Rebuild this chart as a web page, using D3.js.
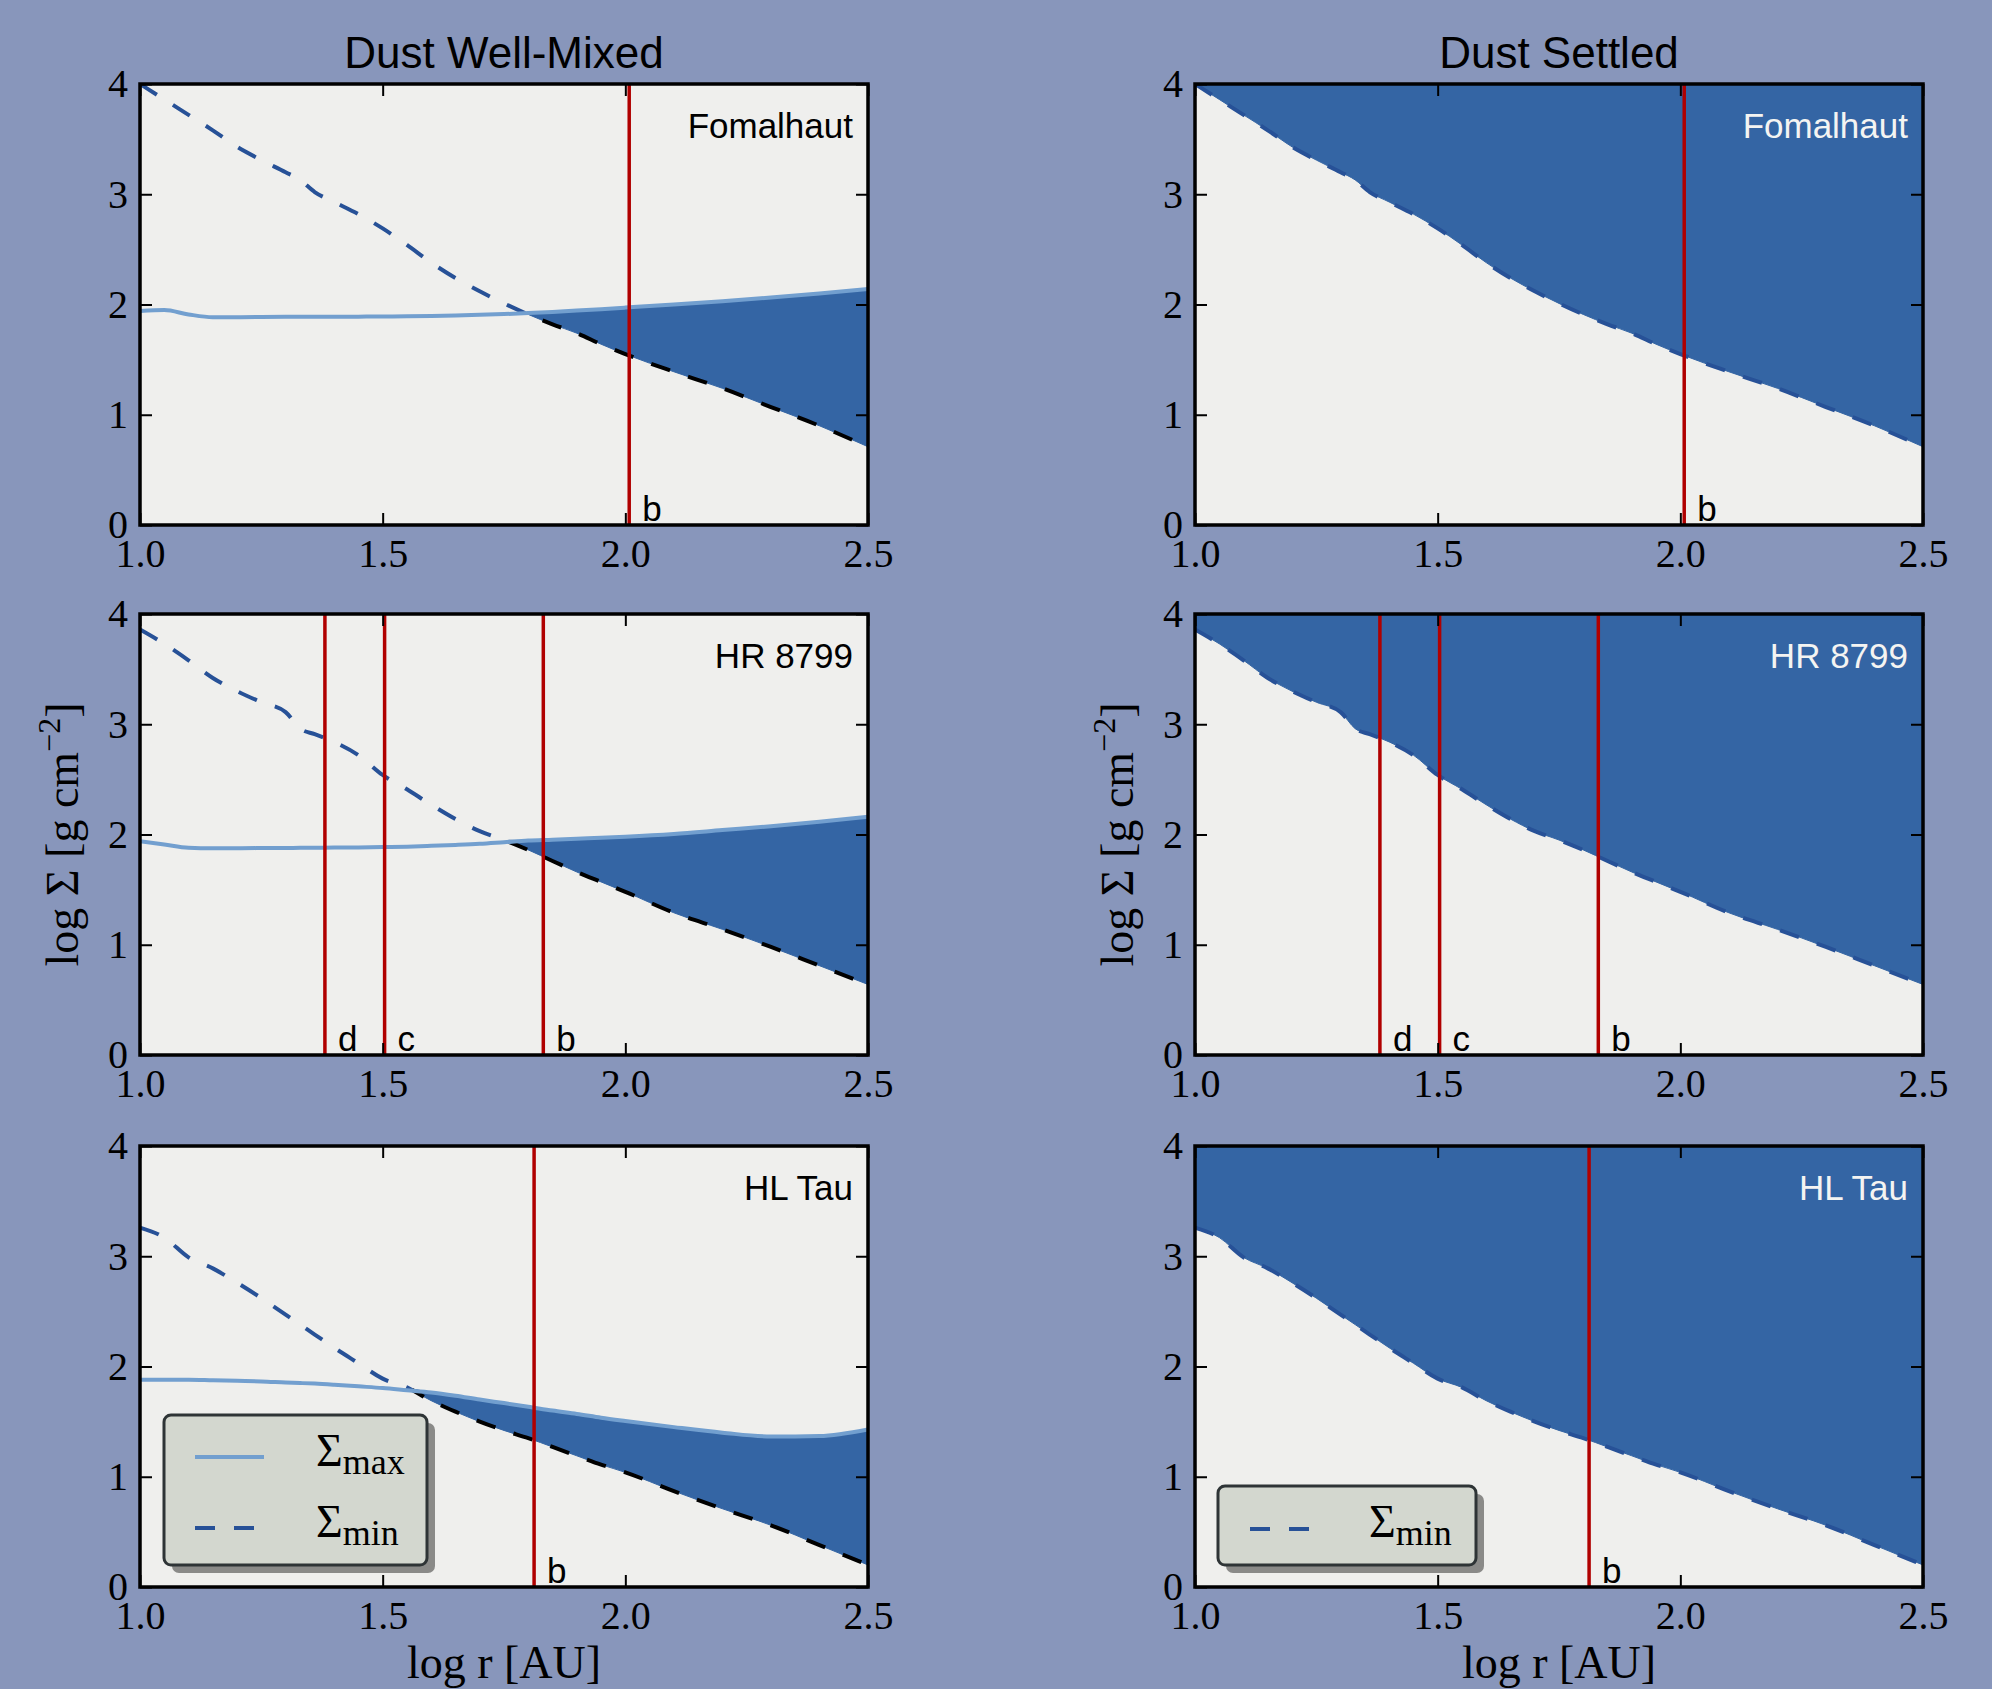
<!DOCTYPE html>
<html>
<head>
<meta charset="utf-8">
<script src="https://cdnjs.cloudflare.com/ajax/libs/d3/7.8.5/d3.min.js"></script>
<style>
  body { margin: 0; background: #8896bb; }
  svg { display: block; }
  .axis .tick line { stroke: #000; stroke-width: 2; }
  .axis .tick text { font-family: "Liberation Serif", serif; font-size: 40px; fill: #000; }
  .sys-label { font-family: "Liberation Sans", sans-serif; font-size: 35px; text-anchor: end; }
  .planet-label { font-family: "Liberation Sans", sans-serif; font-size: 35px; fill: #000; }
  .col-title { font-family: "Liberation Sans", sans-serif; font-size: 44px; text-anchor: middle; fill: #000; }
  .axis-label { font-family: "Liberation Serif", serif; font-size: 46px; text-anchor: middle; fill: #000; }
  .legend-text { font-family: "Liberation Serif", serif; fill: #000; }
</style>
</head>
<body>
<div id="chart"></div>
<script>
// Data
var columnTitles = ["Dust Well-Mixed", "Dust Settled"];
var systemNames = ["Fomalhaut", "HR 8799", "HL Tau"];
var xTicks = [1.0, 1.5, 2.0, 2.5];
var yTicks = [0, 1, 2, 3, 4];

// log r [AU] sample points shared by all curves
var logR = [1.00, 1.05, 1.10, 1.15, 1.20, 1.25, 1.30, 1.33, 1.36, 1.40, 1.45, 1.50, 1.55, 1.60,
            1.65, 1.70, 1.75, 1.80, 1.85, 1.90, 1.95, 2.00, 2.10, 2.20, 2.30, 2.40, 2.50];

var fomalhautMin = [4.00, 3.86, 3.72, 3.58, 3.43, 3.31, 3.20, 3.13, 3.02, 2.93, 2.82, 2.69, 2.54, 2.38,
                    2.24, 2.12, 2.01, 1.91, 1.82, 1.74, 1.64, 1.55, 1.39, 1.24, 1.07, 0.90, 0.71];
var fomalhautMax = [1.94, 1.95, 1.91, 1.885, 1.885, 1.887, 1.888, 1.888, 1.889, 1.889, 1.890, 1.891, 1.893, 1.896,
                    1.900, 1.906, 1.913, 1.922, 1.933, 1.945, 1.958, 1.972, 2.000, 2.030, 2.063, 2.100, 2.140];

var hr8799Min = [3.86, 3.73, 3.58, 3.42, 3.30, 3.20, 3.11, 2.96, 2.91, 2.84, 2.72, 2.54, 2.41, 2.27,
                 2.14, 2.03, 1.95, 1.86, 1.76, 1.66, 1.57, 1.48, 1.29, 1.14, 0.98, 0.81, 0.64];
var hr8799Max = [1.94, 1.91, 1.88, 1.875, 1.875, 1.877, 1.878, 1.879, 1.880, 1.881, 1.883, 1.886, 1.890, 1.897,
                 1.905, 1.915, 1.930, 1.945, 1.953, 1.962, 1.970, 1.980, 2.005, 2.040, 2.075, 2.115, 2.160];

var hlTauMin = [3.26, 3.17, 2.99, 2.89, 2.76, 2.62, 2.47, 2.38, 2.29, 2.17, 2.03, 1.89, 1.81, 1.69,
                1.59, 1.50, 1.42, 1.35, 1.27, 1.19, 1.11, 1.04, 0.87, 0.71, 0.56, 0.38, 0.20];
var hlTauMax = [1.88, 1.88, 1.88, 1.875, 1.87, 1.865, 1.855, 1.85, 1.845, 1.835, 1.82, 1.805, 1.785, 1.765,
                1.735, 1.70, 1.668, 1.635, 1.60, 1.57, 1.535, 1.505, 1.45, 1.40, 1.365, 1.37, 1.43];

// planet positions (log r) and names
var fomalhautPlanetR = [2.008];
var fomalhautPlanetNames = ["b"];
var hr8799PlanetR = [1.381, 1.504, 1.831];
var hr8799PlanetNames = ["d", "c", "b"];
var hlTauPlanetR = [1.812];
var hlTauPlanetNames = ["b"];

var systems = [
  { name: systemNames[0], min: fomalhautMin, max: fomalhautMax, planetR: fomalhautPlanetR, planets: fomalhautPlanetNames },
  { name: systemNames[1], min: hr8799Min,    max: hr8799Max,    planetR: hr8799PlanetR,    planets: hr8799PlanetNames },
  { name: systemNames[2], min: hlTauMin,     max: hlTauMax,     planetR: hlTauPlanetR,     planets: hlTauPlanetNames }
];

// Layout
var W = 1992, H = 1689;
var colX = [140, 1195];
var rowY = [84, 614, 1146];
var width = 728, height = 441;

var colors = {
  bg: "#8896bb",
  plot: "#efefed",
  fill: "#3465a4",
  maxLine: "#729fcf",
  minLine: "#275197",
  planet: "#b00000",
  legend: "#d3d7cf"
};

var svg = d3.select("#chart")
  .append("svg")
  .attr("width", W)
  .attr("height", H)
  .style("background", colors.bg);

var x = d3.scaleLinear().domain([1.0, 2.5]).range([0, width]);
var y = d3.scaleLinear().domain([0, 4]).range([height, 0]);
var curve = d3.curveMonotoneX;

var defs = svg.append("defs");

function drawPanel(row, col) {
  var sys = systems[row];
  var settled = col === 1;
  var id = "p" + row + "" + col;
  var pts = logR.map(function(r, i) { return { r: r, min: sys.min[i], max: sys.max[i] }; });

  var g = svg.append("g")
    .attr("transform", "translate(" + colX[col] + "," + rowY[row] + ")");

  // crossing point of the two curves
  var xc = 2.5;
  for (var i = 1; i < pts.length; i++) {
    var d0 = pts[i - 1].min - pts[i - 1].max, d1 = pts[i].min - pts[i].max;
    if (d0 > 0 && d1 <= 0) {
      xc = pts[i - 1].r + (pts[i].r - pts[i - 1].r) * d0 / (d0 - d1);
      break;
    }
  }

  defs.append("clipPath").attr("id", id + "-all")
    .append("rect").attr("width", width).attr("height", height);
  defs.append("clipPath").attr("id", id + "-left")
    .append("rect").attr("width", x(xc)).attr("height", height);
  defs.append("clipPath").attr("id", id + "-right")
    .append("rect").attr("x", x(xc)).attr("width", width - x(xc)).attr("height", height);

  g.append("rect")
    .attr("width", width)
    .attr("height", height)
    .attr("fill", colors.plot);

  var plot = g.append("g").attr("clip-path", "url(#" + id + "-all)");

  var minLine = d3.line()
    .curve(curve)
    .x(function(d) { return x(d.r); })
    .y(function(d) { return y(d.min); });

  if (!settled) {
    // region between min and max, only where max lies above min
    var area = d3.area()
      .curve(curve)
      .x(function(d) { return x(d.r); })
      .y0(function(d) { return y(d.min); })
      .y1(function(d) { return y(Math.max(d.max, d.min)); });

    plot.append("path")
      .datum(pts)
      .attr("d", area)
      .attr("clip-path", "url(#" + id + "-right)")
      .attr("fill", colors.fill)
      .attr("stroke", colors.fill)
      .attr("stroke-width", 1);

    plot.append("path")
      .datum(pts)
      .attr("d", minLine)
      .attr("clip-path", "url(#" + id + "-left)")
      .attr("fill", "none")
      .attr("stroke", colors.minLine)
      .attr("stroke-width", 4)
      .attr("stroke-dasharray", "20,19");

    plot.append("path")
      .datum(pts)
      .attr("d", minLine)
      .attr("clip-path", "url(#" + id + "-right)")
      .attr("fill", "none")
      .attr("stroke", "#000")
      .attr("stroke-width", 4)
      .attr("stroke-dasharray", "20,19");

    plot.append("path")
      .datum(pts)
      .attr("d", d3.line()
        .curve(curve)
        .x(function(d) { return x(d.r); })
        .y(function(d) { return y(d.max); }))
      .attr("fill", "none")
      .attr("stroke", colors.maxLine)
      .attr("stroke-width", 4);
  } else {
    // everything above min is filled
    var areaUp = d3.area()
      .curve(curve)
      .x(function(d) { return x(d.r); })
      .y0(function(d) { return y(d.min); })
      .y1(y(4));

    plot.append("path")
      .datum(pts)
      .attr("d", areaUp)
      .attr("fill", colors.fill)
      .attr("stroke", colors.fill)
      .attr("stroke-width", 1);

    plot.append("path")
      .datum(pts)
      .attr("d", minLine)
      .attr("fill", "none")
      .attr("stroke", colors.minLine)
      .attr("stroke-width", 4)
      .attr("stroke-dasharray", "20,19");
  }

  // planets
  sys.planetR.forEach(function(r, k) {
    plot.append("line")
      .attr("x1", x(r)).attr("x2", x(r))
      .attr("y1", 0).attr("y2", height)
      .attr("stroke", colors.planet)
      .attr("stroke-width", 3.5);
    g.append("text")
      .attr("class", "planet-label")
      .attr("x", x(r) + 13)
      .attr("y", height - 4)
      .text(sys.planets[k]);
  });

  // system name
  g.append("text")
    .attr("class", "sys-label")
    .attr("x", width - 15)
    .attr("y", 54)
    .attr("fill", settled ? "#f4f4f2" : "#000")
    .text(sys.name);

  // axes with inner ticks
  g.append("g")
    .attr("class", "axis")
    .attr("transform", "translate(0," + height + ")")
    .call(d3.axisBottom(x).tickValues(xTicks).tickSize(-12).tickPadding(14).tickFormat(d3.format(".1f")))
    .select(".domain").remove();

  g.append("g")
    .attr("class", "axis")
    .call(d3.axisTop(x).tickValues(xTicks).tickSize(-12).tickFormat(""))
    .select(".domain").remove();

  g.append("g")
    .attr("class", "axis")
    .call(d3.axisLeft(y).tickValues(yTicks).tickSize(-12).tickPadding(12).tickFormat(d3.format("d")))
    .select(".domain").remove();

  g.append("g")
    .attr("class", "axis")
    .attr("transform", "translate(" + width + ",0)")
    .call(d3.axisRight(y).tickValues(yTicks).tickSize(-12).tickFormat(""))
    .select(".domain").remove();

  g.append("rect")
    .attr("width", width)
    .attr("height", height)
    .attr("fill", "none")
    .attr("stroke", "#000")
    .attr("stroke-width", 3.5);

  return g;
}

function legendEntry(lg, lx1, lx2, ly, tx, ty, sub, dashed) {
  lg.append("line")
    .attr("x1", lx1).attr("x2", lx2)
    .attr("y1", ly).attr("y2", ly)
    .attr("stroke", dashed ? colors.minLine : colors.maxLine)
    .attr("stroke-width", 4)
    .attr("stroke-dasharray", dashed ? "20,19" : null);
  var t = lg.append("text")
    .attr("class", "legend-text")
    .attr("x", tx)
    .attr("y", ty);
  t.append("tspan").attr("font-size", 46).text("Σ");
  t.append("tspan").attr("font-size", 36).attr("dy", 8).text(sub);
}

function drawLegend(g, bx, by, bw, bh) {
  var lg = g.append("g");
  lg.append("rect")
    .attr("x", bx + 8).attr("y", by + 8)
    .attr("width", bw).attr("height", bh)
    .attr("rx", 7)
    .attr("fill", "#8a8a88");
  lg.append("rect")
    .attr("x", bx).attr("y", by)
    .attr("width", bw).attr("height", bh)
    .attr("rx", 7)
    .attr("fill", colors.legend)
    .attr("stroke", "#2e3436")
    .attr("stroke-width", 3);
  return lg;
}

var panels = [];
for (var row = 0; row < 3; row++) {
  panels.push([drawPanel(row, 0), drawPanel(row, 1)]);
}

// legends in the bottom row
var lgLeft = drawLegend(panels[2][0], 24, 269, 263, 150);
legendEntry(lgLeft, 55, 124, 311, 176, 320, "max", false);
legendEntry(lgLeft, 55, 124, 382, 176, 391, "min", true);

var lgRight = drawLegend(panels[2][1], 23, 340, 258, 79);
legendEntry(lgRight, 55, 115, 383, 174, 391, "min", true);

// column titles and axis labels
columnTitles.forEach(function(t, c) {
  svg.append("text")
    .attr("class", "col-title")
    .attr("x", colX[c] + width / 2)
    .attr("y", 68)
    .text(t);

  svg.append("text")
    .attr("class", "axis-label")
    .attr("x", colX[c] + width / 2)
    .attr("y", 1678)
    .text("log r [AU]");

  var yl = svg.append("text")
    .attr("class", "axis-label")
    .attr("transform", "translate(" + (colX[c] - 62) + "," + (rowY[1] + height / 2) + ") rotate(-90)");
  yl.append("tspan").text("log Σ  [g cm");
  yl.append("tspan").attr("font-size", 32).attr("dy", -18).text("−2");
  yl.append("tspan").attr("dy", 18).text("]");
});
</script>
</body>
</html>
